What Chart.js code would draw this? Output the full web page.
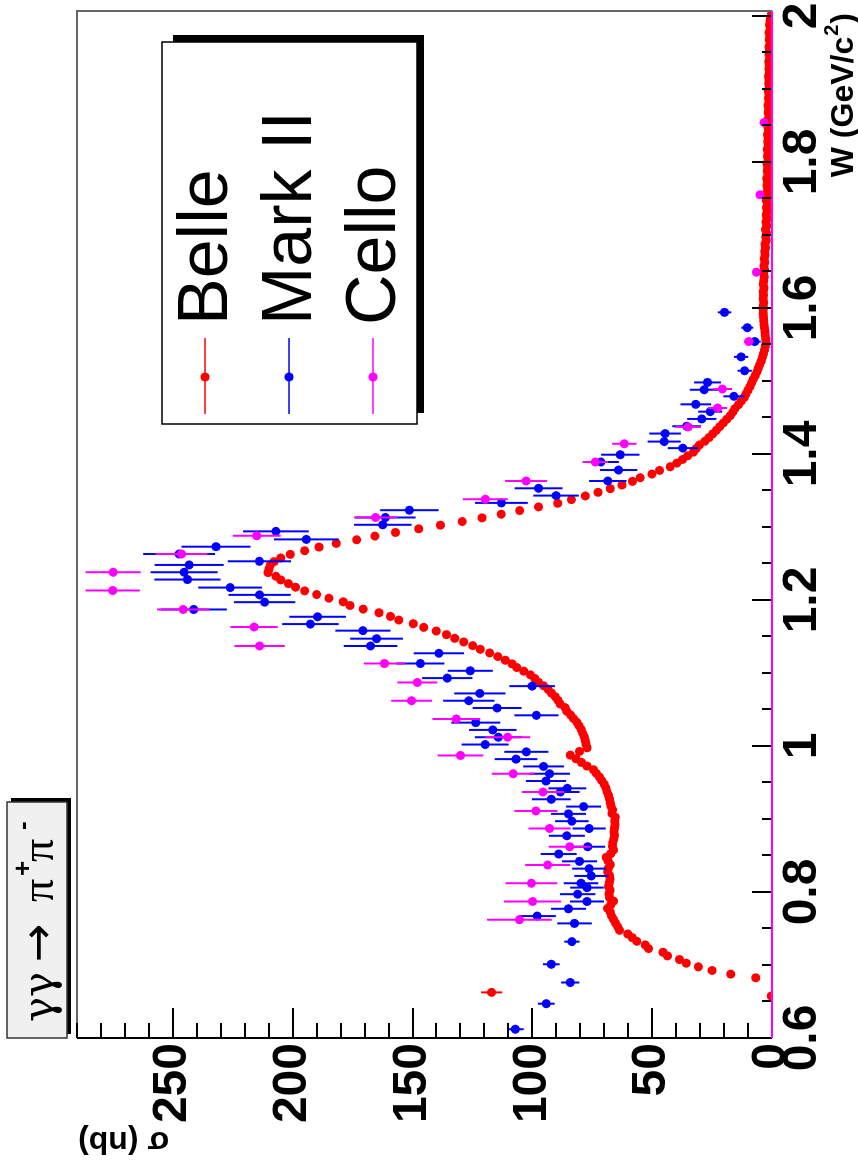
<!DOCTYPE html>
<html><head><meta charset="utf-8">
<script src="https://cdn.jsdelivr.net/npm/chart.js@4.4.1/dist/chart.umd.min.js"></script>
<style>
html,body{margin:0;padding:0;background:#fff;width:858px;height:1173px;overflow:hidden;}
#wrap{position:absolute;left:0;top:0;width:1173px;height:858px;transform-origin:0 0;transform:translate(0px,1173px) rotate(-90deg);}
canvas{display:block;}
</style></head><body>
<div id="wrap"><canvas id="c" width="1173" height="858"></canvas></div>
<script>
// ---- tick labels ----
const wTicks = [0.6, 0.8, 1, 1.2, 1.4, 1.6, 1.8, 2];
const sigmaTicks = [0, 50, 100, 150, 200, 250];

// ---- Belle: 5 MeV bins, first bin centre 0.6025 GeV, one row per 0.1 GeV ----
const belleStart = 0.6025, belleStep = 0.005;
const belleSigma = [
  /*0.60*/ null,null,null,null,null,null,null,null,null,null,null, 0.3, 117, null,null,null, 6.8, 17.2, 25.0, 30.7,
  /*0.70*/ 35.8, 38.6, 43.6, 45.5, 51.5, 52.9, 56.4, 58.3, 60.2, 63.6, 64.4, 65.3, 66.1, 67.0, 67.5, 68.6, 67.3, 66.1, 67.8, 68.0,
  /*0.80*/ 67.6, 68.2, 67.9, 67.6, 67.8, 68.5, 68.3, 67.5, 68.4, 69.2, 67.3, 66.1, 66.6, 66.4, 66.0, 65.7, 65.9, 65.7, 65.5, 65.6,
  /*0.90*/ 65.4, 66.8, 66.5, 67.2, 67.5, 67.8, 68.2, 68.9, 69.3, 70.0, 71.0, 72.0, 73.3, 74.5, 77.2, 79.5, 81.8, 84.2, 80.3, 77.2,
  /*1.00*/ 77.6, 77.9, 78.3, 79.0, 79.6, 80.5, 81.4, 82.8, 84.0, 85.6, 86.3, 88.4, 89.3, 90.4, 92.0, 93.4, 95.3, 97.5, 99.0, 100.8,
  /*1.10*/ 103.6, 106.5, 108.5, 111.3, 114.4, 117.8, 121.7, 124.9, 128.6, 132.4, 135.8, 140.1, 145.3, 149.7, 155.7, 159.2, 164.0, 170.6, 176.1, 178.9,
  /*1.20*/ 184.9, 190.0, 195.0, 198.8, 201.8, 205.0, 207.0, 210.3, 209.9, 209.4, 207.8, 205.0, 201.0, 195.0, 189.0, 181.8, 173.3, 165.7, 157.1, 147.4,
  /*1.30*/ 138.3, 129.3, 121.0, 113.0, 105.3, 97.4, 89.4, 83.7, 77.9, 72.6, 67.5, 62.6, 58.2, 55.0, 50.1, 46.9, 42.5, 39.7, 37.3, 35.2,
  /*1.40*/ 32.8, 31.6, 30.2, 28.0, 26.3, 24.7, 23.2, 21.8, 20.3, 18.9, 17.4, 16.3, 15.4, 14.0, 12.8, 11.6, 10.8, 10.0, 9.2, 8.5,
  /*1.50*/ 7.8, 7.0, 6.3, 5.7, 5.1, 4.5, 4.0, 3.5, 3.1, 2.8, 2.5, 2.6, 2.8, 2.9, 3.1, 3.3, 3.4, 3.5, 3.6, 3.7,
  /*1.60*/ 3.6, 3.4, 3.7, 3.5, 3.6, 3.3, 3.6, 3.4, 3.2, 3.4, 3.1, 3.3, 3.0, 3.2, 2.9, 3.0, 2.7, 2.9, 2.4, 2.6,
  /*1.70*/ 2.3, 2.7, 2.2, 2.5, 2.1, 2.4, 2.0, 2.3, 1.9, 2.4, 2.0, 2.2, 1.8, 2.1, 1.9, 2.2, 1.7, 2.0, 1.8, 2.1,
  /*1.80*/ 1.6, 1.9, 1.7, 2.0, 1.5, 1.8, 1.6, 1.9, 1.4, 1.7, 1.5, 1.8, 1.3, 1.6, 1.4, 1.7, 1.2, 1.5, 1.3, 1.6,
  /*1.90*/ 1.1, 1.4, 1.2, 1.5, 1.0, 1.3, 1.1, 1.4, 0.9, 1.2, 1.0, 1.3, 0.8, 1.1, 0.9, 1.2, 0.7, 1.0, 0.8, 0.6,
  /*2.00*/ 0.2
];
const belleErrIndex = [12];      // only visible Belle error bar
const belleErrValue = [4.4];

// ---- Mark II ----
const markW = [0.612,0.647,0.676,0.701,0.732,0.757,0.767,0.777,0.787,0.797,0.806,0.812,0.822,0.832,0.842,0.852,0.862,0.877,0.887,0.897,0.907,0.917,0.927,0.937,0.942,0.952,0.962,0.972,0.982,0.992,1.002,1.012,1.022,1.032,1.042,1.052,1.062,1.072,1.082,1.093,1.103,1.113,1.127,1.137,1.147,1.158,1.167,1.177,1.187,1.197,1.207,1.217,1.228,1.238,1.248,1.253,1.263,1.273,1.283,1.294,1.303,1.313,1.323,1.333,1.343,1.353,1.363,1.378,1.389,1.399,1.408,1.417,1.428,1.438,1.448,1.458,1.468,1.479,1.488,1.498,1.514,1.533,1.554,1.573,1.594];
const markSigma = [107.1,94.2,84.2,92.1,83.5,82.4,98.0,84.9,77.2,81.1,77.2,79.7,75.4,76.3,80.3,89.0,76.9,85.6,76.3,83.5,84.9,78.6,92.1,88.3,85.4,94.3,92.8,95.3,106.8,102.5,119.7,114.2,116.5,123.6,98.3,114.7,126.5,121.9,100.1,135.5,125.9,146.7,139.0,167.5,165.0,170.7,192.6,189.6,241.3,211.7,213.8,226.1,243.9,245.3,243.2,213.9,247.4,232.0,194.3,207.0,162.4,161.3,151.3,112.9,90.1,97.4,68.5,64.0,71.4,63.3,37.2,45.0,44.6,35.6,29.3,25.8,31.8,15.9,28.3,26.9,11.4,12.9,7.2,10.3,19.8];
const markErr = [3.5,3.5,3.8,3.5,3.2,7.2,7.8,7.3,7.1,7.4,7.0,7.2,7.1,7.1,7.3,7.5,7.3,7.5,6.9,7.0,7.3,7.3,8.1,8.0,7.9,8.4,8.5,8.5,8.9,9.2,9.8,9.8,9.9,10.2,9.2,10.2,10.7,10.7,9.5,10.5,9.4,10.0,10.5,11.2,11.0,11.5,11.8,11.8,13.8,12.8,13.0,13.3,13.8,14.0,14.4,13.2,15.0,14.4,13.5,13.7,12.0,12.6,12.2,11.0,9.5,10.0,7.8,7.8,7.5,8.0,6.3,6.9,6.6,6.0,6.1,5.0,6.4,4.4,6.0,5.6,3.0,3.0,2.5,2.5,2.8];

// ---- Cello ----
const celloW = [0.762,0.787,0.812,0.837,0.862,0.887,0.911,0.937,0.962,0.987,1.012,1.037,1.062,1.087,1.113,1.137,1.163,1.187,1.213,1.238,1.263,1.288,1.313,1.338,1.363,1.389,1.414,1.437,1.463,1.489,1.554,1.649,1.755,1.854];
const celloSigma = [105.4,99.9,100.4,93.6,84.4,92.8,98.5,95.6,108.0,130.0,110.3,131.7,150.4,148.0,161.7,213.8,216.1,245.7,275.1,274.9,246.4,215.0,165.4,119.6,102.6,73.7,61.6,35.0,22.7,20.7,9.7,6.5,5.0,3.3];
const celloErr = [13.5,11.9,10.8,9.4,8.8,8.8,9.0,8.8,8.9,9.5,9.4,10.0,8.5,8.3,8.6,10.5,9.9,10.9,11.3,11.5,10.8,10.0,9.0,9.4,8.75,5.3,5.1,5.3,4.0,4.0,2.0,1.5,1.5,1.5];

const RED = '#ff0000', BLUE = '#0000ff', MAG = '#ff00ff';
const SANS = '"Liberation Sans", Arial, Helvetica, sans-serif';
const SERIF = '"DejaVu Serif", "Liberation Serif", "Times New Roman", serif';

const belleData = [], belleErr = [];
belleSigma.forEach((s, i) => {
  if (s === null) return;
  const k = belleErrIndex.indexOf(i);
  belleData.push({x: +(belleStart + belleStep * i).toFixed(4), y: s});
  belleErr.push(k >= 0 ? belleErrValue[k] : 0);
});
const markData = markW.map((w, i) => ({x: w, y: markSigma[i]}));
const celloData = celloW.map((w, i) => ({x: w, y: celloSigma[i]}));
const errs = [belleErr, markErr, celloErr];

const bgPlugin = {
  id: 'bg',
  beforeDraw(c) { const g = c.ctx; g.save(); g.fillStyle = '#fff'; g.fillRect(0, 0, c.width, c.height); g.restore(); }
};

const errPlugin = {
  id: 'errbars',
  beforeDatasetDraw(c, args) {
    const i = args.index, meta = args.meta, ds = c.data.datasets[i];
    const ys = c.scales.y, g = c.ctx, e = errs[i];
    g.save();
    g.strokeStyle = ds.backgroundColor; g.lineWidth = 2;
    meta.data.forEach((pt, j) => {
      const er = e[j]; if (!er) return;
      const v = ds.data[j].y;
      g.beginPath();
      g.moveTo(pt.x, ys.getPixelForValue(v - er));
      g.lineTo(pt.x, ys.getPixelForValue(v + er));
      g.stroke();
    });
    g.restore();
  }
};

const framePlugin = {
  id: 'frame',
  afterDraw(c) {
    const g = c.ctx, a = c.chartArea, xs = c.scales.x, ys = c.scales.y;
    g.save();
    // frame (top / right)
    g.strokeStyle = '#666'; g.lineWidth = 2;
    g.beginPath(); g.moveTo(a.left, a.top); g.lineTo(a.right, a.top); g.lineTo(a.right, a.bottom); g.stroke();
    // ticks on W axis (inward)
    g.strokeStyle = '#000'; g.lineWidth = 2;
    for (let k = 0; k <= 28; k++) {
      const v = 0.6 + k * 0.05;
      const px = Math.round(xs.getPixelForValue(v));
      const len = (k % 4 === 0) ? 20 : 10;
      g.beginPath(); g.moveTo(px, a.bottom); g.lineTo(px, a.bottom - len); g.stroke();
    }
    // ticks on sigma axis (inward)
    for (let k = 0; k <= 29; k++) {
      const py = Math.round(ys.getPixelForValue(k * 10));
      const len = (k % 5 === 0) ? 30 : 15;
      g.beginPath(); g.moveTo(a.left, py); g.lineTo(a.left + len, py); g.stroke();
    }
    // sigma axis line
    g.beginPath(); g.moveTo(a.left, a.top); g.lineTo(a.left, a.bottom); g.stroke();
    // W axis line (magenta in reference)
    g.strokeStyle = MAG; g.lineWidth = 2;
    g.beginPath(); g.moveTo(a.left, a.bottom); g.lineTo(a.right, a.bottom); g.stroke();

    // axis titles
    g.fillStyle = '#000';
    g.font = 'bold 32px ' + SANS; g.textBaseline = 'alphabetic';
    g.textAlign = 'right';
    g.fillText(')', 1160, 853);
    const wp = g.measureText(')').width;
    g.font = 'bold 20px ' + SANS;
    g.fillText('2', 1160 - wp - 1, 838);
    const w2 = g.measureText('2').width;
    g.font = 'bold 32px ' + SANS;
    g.fillText('W (GeV/c', 1160 - wp - w2 - 2, 853);
    g.save();
    g.translate(41, 78); g.rotate(-Math.PI / 2);
    g.textAlign = 'right';
    g.fillText('\u03C3 (nb)', 0, 0);
    g.restore();

    // title box
    g.fillStyle = '#000'; g.fillRect(139, 11, 236, 60);
    g.fillStyle = '#f0f0f0'; g.fillRect(135, 7, 236, 60);
    g.strokeStyle = '#333'; g.lineWidth = 1.5; g.strokeRect(135, 7, 236, 60);
    g.fillStyle = '#000'; g.textAlign = 'left';
    g.font = '42px ' + SERIF;
    g.fillText('\u03B3', 151, 53);
    g.fillText('\u03B3', 176, 53);
    g.font = '46px "Liberation Serif", serif';
    g.fillText('\u03C0', 271, 53);
    g.fillText('\u03C0', 311, 53);
    g.font = '46px "DejaVu Sans", ' + SANS;
    g.fillText('\u2192', 211, 53);
    g.font = 'bold 26px ' + SANS;
    g.fillText('+', 297, 31);
    g.fillText('-', 343, 31);

    // legend box
    g.fillStyle = '#000'; g.fillRect(760, 173, 378, 251);
    g.fillStyle = '#fff'; g.fillRect(749, 162, 382, 255);
    g.strokeStyle = '#000'; g.lineWidth = 1.5; g.strokeRect(749, 162, 382, 255);
    const entries = [['Belle', RED, 205], ['Mark II', BLUE, 289], ['Cello', MAG, 373]];
    entries.forEach(([name, col, vy]) => {
      g.strokeStyle = col; g.lineWidth = 1.5;
      g.beginPath(); g.moveTo(759, vy); g.lineTo(835, vy); g.stroke();
      g.fillStyle = col; g.beginPath(); g.arc(796, vy, 4.5, 0, Math.PI * 2); g.fill();
      g.fillStyle = '#000'; g.font = '70px ' + SANS; g.textAlign = 'left';
      g.fillText(name, 848, vy + 22);
    });
    g.restore();
  }
};

const pointDs = (label, data, color, order) => ({
  label, data, order,
  backgroundColor: color, borderColor: color,
  pointRadius: 4.5, pointBorderWidth: 0, pointStyle: 'circle', showLine: false
});

new Chart(document.getElementById('c'), {
  type: 'scatter',
  data: { datasets: [
    pointDs('Belle', belleData, RED, 3),
    pointDs('Mark II', markData, BLUE, 2),
    pointDs('Cello', celloData, MAG, 1)
  ]},
  options: {
    responsive: false, animation: false, devicePixelRatio: 1, events: [],
    layout: { padding: { top: 77, right: 11, left: 0, bottom: 0 } },
    plugins: { legend: { display: false }, tooltip: { enabled: false }, title: { display: false } },
    scales: {
      x: {
        type: 'linear', position: 'bottom', min: 0.6, max: 2.0068,
        grid: { display: false, drawTicks: false }, border: { display: false },
        ticks: { padding: 2, color: '#000', font: { family: SANS, size: 48, weight: 'bold' },
                 maxRotation: 0, minRotation: 0, autoSkip: false, callback: v => String(v) },
        afterBuildTicks: s => { s.ticks = wTicks.map(v => ({ value: v })); },
        afterFit: s => { s.height = 86; s.paddingLeft = 0; s.paddingRight = 0; }
      },
      y: {
        type: 'linear', position: 'left', min: 0, max: 290,
        grid: { display: false, drawTicks: false }, border: { display: false },
        ticks: { padding: 5, color: '#000', font: { family: SANS, size: 48, weight: 'bold' },
                 autoSkip: false, callback: v => String(v) },
        afterBuildTicks: s => { s.ticks = sigmaTicks.map(v => ({ value: v })); },
        afterFit: s => { s.width = 135; s.paddingTop = 0; s.paddingBottom = 0; }
      }
    }
  },
  plugins: [bgPlugin, errPlugin, framePlugin]
});
</script></body></html>
